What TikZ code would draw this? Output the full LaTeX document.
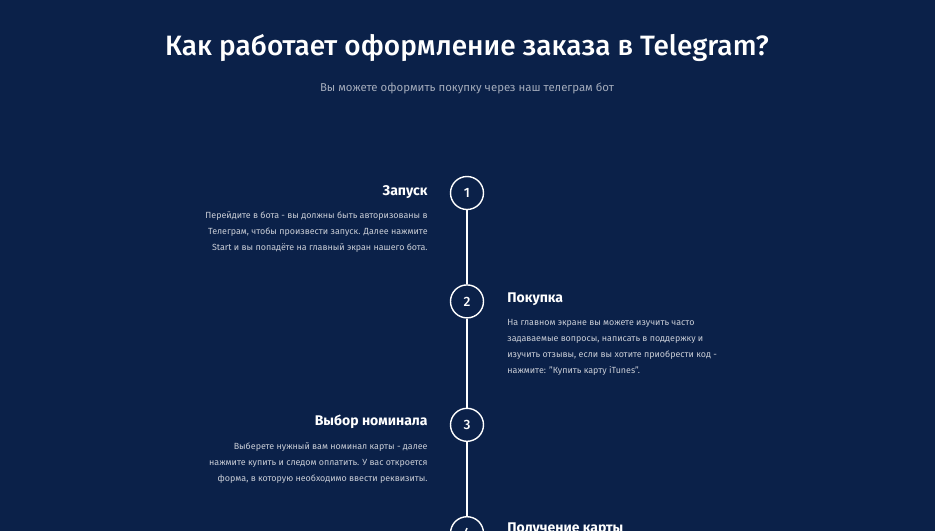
\documentclass[tikz,border=0pt]{standalone}
\usepackage{fontspec}
\setmainfont{Fira Sans}
\newfontfamily\firamed{Fira Sans Medium}
\usepackage{tikz}
\usetikzlibrary{positioning}
\definecolor{navybg}{HTML}{0B2149}
\definecolor{subgray}{HTML}{A3ABBB}
\definecolor{bodygray}{HTML}{C9CDD6}

\begin{document}
\begin{tikzpicture}[x=1pt, y=-1pt,
    stepnode/.style={circle, draw=white, line width=1.4pt,
      minimum size=33pt, inner sep=0pt, text=white,
      font=\firamed\fontsize{13.5}{16}\selectfont},
    headnode/.style={inner sep=0pt, text=white,
      font=\bfseries\fontsize{14}{16}\selectfont},
    bodyright/.style={inner sep=0pt, text=bodygray, align=right,
      font=\fontsize{8.9}{16}\selectfont},
    bodyleft/.style={inner sep=0pt, text=bodygray, align=left,
      font=\fontsize{8.9}{16}\selectfont}, ]
    \fill[navybg] (0,0) rectangle (935,531);
    \useasboundingbox (0,0) rectangle (935,531);
    % Nodes
    \node[text=white, font=\firamed\fontsize{28}{32}\selectfont]
    (title) at (467,48) {Как работает оформление заказа в
      Telegram?};
    \node[text=subgray, font=\fontsize{11.4}{13}\selectfont]
    (subtitle) at (467,88) {Вы можете оформить покупку через наш
      телеграм бот};
    \node[stepnode] (step1) at (467,193) {1}; \node[stepnode]
    (step2) [below=74pt of step1] {2}; \node[stepnode] (step3)
    [below=89pt of step2] {3}; \node[stepnode] (step4) [below=74pt
    of step3] {4};
    \node[headnode] (launch) [left=22pt of step1, yshift=1pt]
    {Запуск}; \node[headnode] (purchase) [right=23pt of step2,
    yshift=2pt] {Покупка}; \node[headnode] (nominal) [left=22pt of
    step3, yshift=3pt] {Выбор номинала}; \node[headnode] (receive)
    [right=23pt of step4, yshift=4pt] {Получение карты};
    \node[bodyright] (launch_txt) [below left=13pt and 0pt of
    launch.south east] {Перейдите в бота - вы должны быть
      авторизованы в\\ Телеграм, чтобы произвести запуск. Далее
      нажмите\\ Start и вы попадёте на главный экран нашего бота.};
    \node[bodyleft] (purchase_txt) [below right=13pt and 0pt of
    purchase.south west] {На главном экране вы можете изучить
      часто\\ задаваемые вопросы, написать в поддержку и\\ изучить
      отзывы, если вы хотите приобрести код -\\ нажмите: "Купить
      карту iTunes".};
    \node[bodyright] (nominal_txt) [below left=13.5pt and 0pt of
    nominal.south east] {Выберете нужный вам номинал карты -
      далее\\ нажмите купить и следом оплатить. У вас
      откроется\\ форма, в которую необходимо ввести реквизиты.};
    % Lines
    \draw[white, line width=1.4pt] (step1.south) -- (step2.north);
    \draw[white, line width=1.4pt] (step2.south) -- (step3.north);
    \draw[white, line width=1.4pt] (step3.south) -- (step4.north);
  \end{tikzpicture}
\end{document}
